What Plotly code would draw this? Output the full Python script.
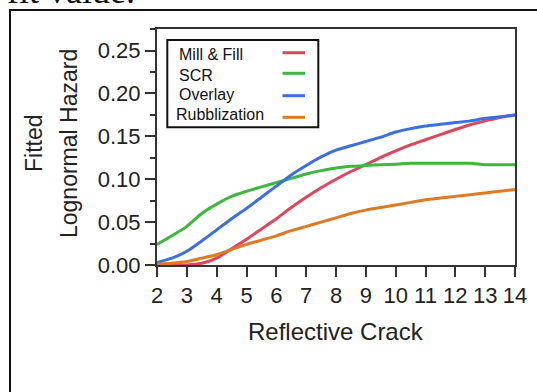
import plotly.graph_objects as go

# ---- data ----
reflective_crack = [2, 2.5, 3, 3.5, 4, 4.5, 5, 5.5, 6, 6.5, 7, 7.5, 8, 8.5, 9, 9.5,
                    10, 10.5, 11, 11.5, 12, 12.5, 13, 13.5, 14]
mill_fill = [0.0, 0.0, 0.0, 0.002, 0.008, 0.019, 0.030, 0.042, 0.054, 0.067, 0.079, 0.090,
             0.100, 0.109, 0.117, 0.1255, 0.133, 0.140, 0.146, 0.152, 0.158, 0.1635, 0.168,
             0.172, 0.175]
scr = [0.024, 0.034, 0.045, 0.060, 0.071, 0.080, 0.086, 0.091, 0.096, 0.101, 0.106, 0.110,
       0.113, 0.115, 0.116, 0.117, 0.1175, 0.1185, 0.1185, 0.1185, 0.1185, 0.1185, 0.117,
       0.117, 0.117]
overlay = [0.003, 0.008, 0.016, 0.028, 0.041, 0.054, 0.066, 0.079, 0.092, 0.105, 0.116,
           0.126, 0.134, 0.139, 0.144, 0.149, 0.155, 0.159, 0.162, 0.164, 0.166, 0.168,
           0.171, 0.1727, 0.175]
rubblization = [0.001, 0.002, 0.004, 0.008, 0.012, 0.018, 0.024, 0.029, 0.034, 0.040, 0.045,
                0.050, 0.055, 0.060, 0.064, 0.067, 0.070, 0.073, 0.076, 0.078, 0.080, 0.082,
                0.084, 0.086, 0.088]
series_names = ["Mill & Fill", "SCR", "Overlay", "Rubblization"]
x_ticks = list(range(2, 15))
y_ticks = [0.00, 0.05, 0.10, 0.15, 0.20, 0.25]
y_ticklabels = ["0.00", "0.05", "0.10", "0.15", "0.20", "0.25"]

colors = ["#e2455b", "#3cb83c", "#3a6ee6", "#e07a22"]
series_values = [mill_fill, scr, overlay, rubblization]

W, H = 537, 392
L, R, T, B = 157, 22, 29, 127
PW, PH = W - L - R, H - T - B


def px(xp):
    return (xp - L) / PW


def py(yp):
    return (H - B - yp) / PH


fig = go.Figure()
for name, vals, col in zip(series_names, series_values, colors):
    fig.add_trace(go.Scatter(x=reflective_crack, y=vals, mode="lines", name=name,
                             line=dict(color=col, width=3, shape="spline", smoothing=0.5),
                             showlegend=False, cliponaxis=True))

axis_col = "#333333"
tick_font = dict(family="Liberation Sans, Arial", size=22, color="#222222")

fig.update_xaxes(range=[2, 14], tickvals=x_ticks, ticktext=[str(v) for v in x_ticks],
                 automargin=False,
                 showline=True, linecolor=axis_col, linewidth=2, mirror=True,
                 ticks="outside", ticklen=10, tickwidth=2, tickcolor=axis_col,
                 showgrid=False, zeroline=False, tickfont=tick_font)
fig.update_yaxes(range=[0, 0.2751], tickvals=y_ticks, ticktext=y_ticklabels,
                 automargin=False,
                 showline=True, linecolor=axis_col, linewidth=2, mirror=True,
                 ticks="outside", ticklen=10, tickwidth=2, tickcolor=axis_col,
                 minor=dict(dtick=0.025, tick0=0, ticks="outside", ticklen=5,
                            tickwidth=2, tickcolor=axis_col, showgrid=False),
                 showgrid=False, zeroline=False, tickfont=tick_font)

shapes = []
annotations = []

# outer frame (clipped by page)
shapes.append(dict(type="rect", xref="paper", yref="paper",
                   x0=px(10), x1=px(560), y0=py(420), y1=py(10),
                   line=dict(color="#111111", width=2), fillcolor="rgba(0,0,0,0)"))

# legend box
shapes.append(dict(type="rect", xref="paper", yref="paper",
                   x0=px(167.3), x1=px(318.3), y0=py(127.3), y1=py(40),
                   line=dict(color="#111111", width=2), fillcolor="white"))
leg_text_x = [179.3, 179.3, 179.3, 176]
leg_text_y = [54.5, 75.5, 94.5, 114.3]
leg_line_y = [52.7, 73.3, 95.7, 117.3]
for i, name in enumerate(series_names):
    annotations.append(dict(text=name, xref="paper", yref="paper",
                            x=px(leg_text_x[i] - 2), y=py(leg_text_y[i]),
                            xanchor="left", yanchor="middle", showarrow=False,
                            font=dict(family="Liberation Sans, Arial", size=16, color="#111111")))
    shapes.append(dict(type="line", xref="paper", yref="paper",
                       x0=px(282.5), x1=px(305), y0=py(leg_line_y[i]), y1=py(leg_line_y[i]),
                       line=dict(color=colors[i], width=3)))

title_font = dict(family="Liberation Sans, Arial", size=23, color="#222222")
annotations.append(dict(text="Reflective Crack", xref="paper", yref="paper",
                        x=0.5, y=py(331), xanchor="center", yanchor="middle",
                        showarrow=False, font=dict(family="Liberation Sans, Arial", size=24,
                                                   color="#222222")))
annotations.append(dict(text="Fitted", xref="paper", yref="paper",
                        x=px(34), y=py(143), xanchor="center", yanchor="middle",
                        textangle=-90, showarrow=False, font=title_font))
annotations.append(dict(text="Lognormal Hazard", xref="paper", yref="paper",
                        x=px(69), y=py(144), xanchor="center", yanchor="middle",
                        textangle=-90, showarrow=False, font=title_font))
# clipped document text at the very top
annotations.append(dict(text="fit value.", xref="paper", yref="paper",
                        x=px(5), y=py(13), xanchor="left", yanchor="bottom",
                        showarrow=False,
                        font=dict(family="Liberation Serif, Times New Roman", size=36,
                                  color="#111111")))

fig.update_layout(width=W, height=H, margin=dict(l=L, r=R, t=T, b=B, autoexpand=False),
                  paper_bgcolor="white", plot_bgcolor="white",
                  shapes=shapes, annotations=annotations, showlegend=False)

fig.write_html("out.html", config={"displayModeBar": False},
               post_script="document.body.style.margin='0';document.body.style.padding='0';")
